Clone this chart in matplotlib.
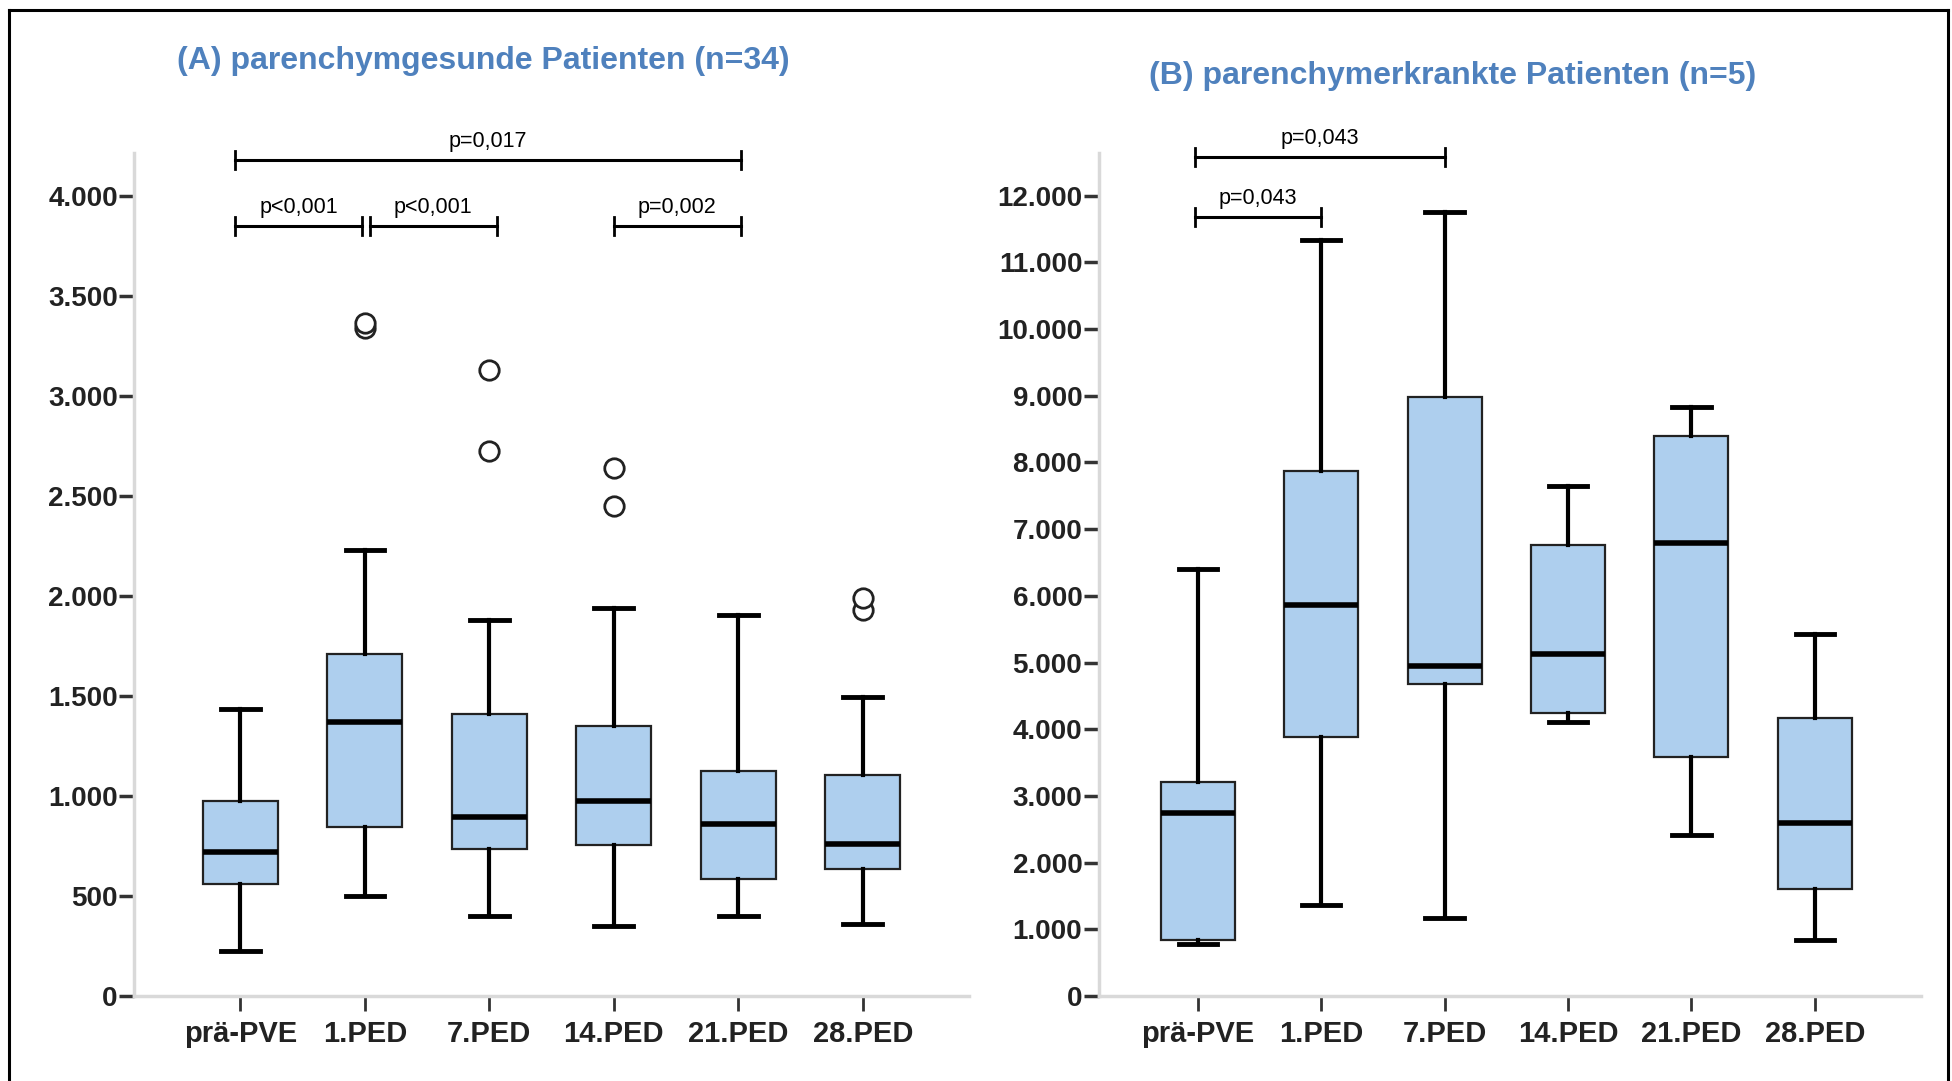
#%% Imports
import matplotlib
matplotlib.use("Agg")
import matplotlib.pyplot as plt
from matplotlib.lines import Line2D
from matplotlib.ticker import FuncFormatter

plt.rcParams['font.family'] = ['Liberation Sans', 'DejaVu Sans']

#%% Data
categories = ['prä-PVE', '1.PED', '7.PED', '14.PED', '21.PED', '28.PED']

# (A) parenchymgesunde Patienten
a_low = [224, 498, 398, 348, 398, 361]
a_q1 = [560, 846, 734, 753, 585, 634]
a_med = [722, 1368, 896, 977, 858, 759]
a_q3 = [977, 1711, 1412, 1350, 1126, 1107]
a_high = [1437, 2227, 1878, 1941, 1903, 1493]
a_fliers = [[], [3340, 3365], [2724, 3129], [2451, 2637], [], [1928, 1990]]

# (B) parenchymerkrankte Patienten
b_low = [784, 1362, 1176, 4105, 2407, 840]
b_q1 = [840, 3881, 4684, 4236, 3583, 1605]
b_med = [2743, 5859, 4945, 5132, 6792, 2594]
b_q3 = [3210, 7875, 8976, 6755, 8397, 4161]
b_high = [6400, 11327, 11756, 7651, 8826, 5430]

# significance brackets: (from, to, height, label)
a_brackets = [(-0.04, 4.02, 4180, 'p=0,017'),
              (-0.04, 0.98, 3850, 'p<0,001'),
              (1.04, 2.06, 3850, 'p<0,001'),
              (3.0, 4.02, 3850, 'p=0,002')]
b_brackets = [(-0.02, 2.0, 12577, 'p=0,043'),
              (-0.02, 1.0, 11681, 'p=0,043')]

title_color = '#4F81BD'
box_color = '#AECFEE'


def make_stats(low, q1, med, q3, high, fliers=None):
    stats = []
    for i in range(len(low)):
        stats.append({'whislo': low[i], 'q1': q1[i], 'med': med[i],
                      'q3': q3[i], 'whishi': high[i],
                      'fliers': fliers[i] if fliers else []})
    return stats


def draw_panel(ax, stats, ymax, yticks, brackets, cap_h, text_off):
    ax.bxp(stats, positions=range(len(stats)), widths=0.6, patch_artist=True,
           capwidths=0.31,
           boxprops=dict(facecolor=box_color, edgecolor='#222222', linewidth=1.6),
           medianprops=dict(color='black', linewidth=4),
           whiskerprops=dict(color='black', linewidth=3),
           capprops=dict(color='black', linewidth=3.5),
           flierprops=dict(marker='o', markersize=14, markerfacecolor='white',
                           markeredgecolor='#222222', markeredgewidth=2))
    ax.set_xlim(-0.85, 5.85)
    ax.set_ylim(0, ymax)
    ax.set_yticks(yticks)
    ax.yaxis.set_major_formatter(FuncFormatter(lambda v, p: f"{int(v):,}".replace(",", ".")))
    ax.set_xticks(range(len(categories)))
    ax.set_xticklabels(categories)
    for s in ['top', 'right']:
        ax.spines[s].set_visible(False)
    for s in ['left', 'bottom']:
        ax.spines[s].set_color('#D9D9D9')
        ax.spines[s].set_linewidth(2.5)
    ax.tick_params(axis='y', length=11, width=2.5, color='#333333', pad=1,
                   labelsize=20, labelcolor='#222222')
    ax.tick_params(axis='x', length=11, width=2, color='#333333', pad=6,
                   labelsize=21, labelcolor='#222222')
    for lab in ax.get_xticklabels() + ax.get_yticklabels():
        lab.set_fontweight('bold')
    for x0, x1, y, label in brackets:
        ax.plot([x0, x1], [y, y], color='black', lw=2.2, clip_on=False)
        ax.plot([x0, x0], [y - cap_h, y + cap_h], color='black', lw=2, clip_on=False)
        ax.plot([x1, x1], [y - cap_h, y + cap_h], color='black', lw=2, clip_on=False)
        ax.text((x0 + x1) / 2, y + text_off, label, ha='center', va='bottom',
                fontsize=15.5, clip_on=False)


#%% Figure
fig = plt.figure(figsize=(19.52, 10.81), dpi=100)
ax1 = fig.add_axes([0.0689, 0.0786, 0.4273, 0.7798])
ax2 = fig.add_axes([0.5630, 0.0786, 0.4211, 0.7798])

draw_panel(ax1, make_stats(a_low, a_q1, a_med, a_q3, a_high, a_fliers), 4213,
           range(0, 4001, 500), a_brackets, 45, 40)
draw_panel(ax2, make_stats(b_low, b_q1, b_med, b_q3, b_high), 12637,
           range(0, 12001, 1000), b_brackets, 135, 120)
ax2.set_xlim(-0.8, 5.86)

fig.text(0.2475, 0.944, '(A) parenchymgesunde Patienten (n=34)', ha='center', va='center',
         fontsize=23, fontweight='bold', color=title_color)
fig.text(0.744, 0.930, '(B) parenchymerkrankte Patienten (n=5)', ha='center', va='center',
         fontsize=23, fontweight='bold', color=title_color)

# frame around the figure (open at the bottom)
for xs, ys in [([0.0046, 0.0046], [-0.01, 0.9907]),
               ([0.0046, 0.998], [0.9907, 0.9907]),
               ([0.998, 0.998], [0.9907, -0.01])]:
    fig.add_artist(Line2D(xs, ys, color='black', lw=2.2, transform=fig.transFigure))

fig.savefig('out.png', dpi=100, facecolor='white')
